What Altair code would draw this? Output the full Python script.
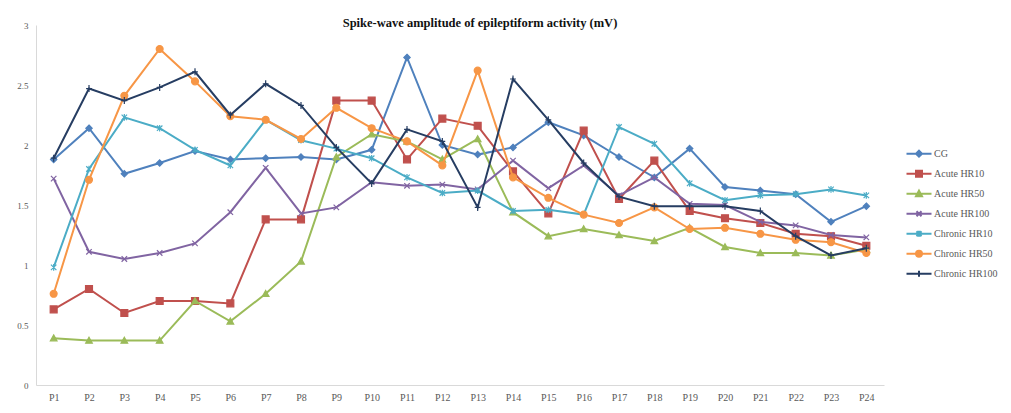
import altair as alt
import pandas as pd

# Recording points P1..P24
points = [f"P{i}" for i in range(1, 25)]

series_names = ["CG", "Acute HR10", "Acute HR50", "Acute HR100",
                "Chronic HR10", "Chronic HR50", "Chronic HR100"]

cg = [1.88, 2.14, 1.76, 1.85, 1.95, 1.88, 1.89, 1.90, 1.88, 1.96, 2.73, 2.00,
      1.92, 1.98, 2.19, 2.08, 1.90, 1.73, 1.97, 1.65, 1.62, 1.59, 1.36, 1.49]
acute_hr10 = [0.63, 0.80, 0.60, 0.70, 0.70, 0.68, 1.38, 1.38, 2.37, 2.37, 1.88, 2.22,
              2.16, 1.78, 1.43, 2.12, 1.55, 1.87, 1.45, 1.39, 1.35, 1.26, 1.24, 1.16]
acute_hr50 = [0.39, 0.37, 0.37, 0.37, 0.70, 0.53, 0.76, 1.03, 1.90, 2.09, 2.03, 1.88,
              2.05, 1.44, 1.24, 1.30, 1.25, 1.20, 1.31, 1.15, 1.10, 1.10, 1.08, 1.13]
acute_hr100 = [1.72, 1.11, 1.05, 1.10, 1.18, 1.44, 1.81, 1.43, 1.48, 1.69, 1.66, 1.67,
               1.63, 1.87, 1.64, 1.83, 1.58, 1.73, 1.51, 1.50, 1.36, 1.33, 1.25, 1.23]
chronic_hr10 = [0.98, 1.80, 2.23, 2.14, 1.96, 1.83, 2.21, 2.04, 1.97, 1.89, 1.73, 1.60,
                1.62, 1.45, 1.46, 1.42, 2.15, 2.01, 1.68, 1.54, 1.58, 1.59, 1.63, 1.58]
chronic_hr50 = [0.76, 1.71, 2.41, 2.80, 2.53, 2.24, 2.21, 2.05, 2.31, 2.14, 2.03, 1.83,
                2.62, 1.73, 1.56, 1.42, 1.35, 1.48, 1.30, 1.31, 1.26, 1.21, 1.19, 1.10]
chronic_hr100 = [1.89, 2.47, 2.37, 2.48, 2.61, 2.25, 2.51, 2.33, 1.98, 1.68, 2.13, 2.03,
                 1.48, 2.55, 2.21, 1.85, 1.57, 1.49, 1.49, 1.49, 1.45, 1.24, 1.08, 1.14]

series_values = [cg, acute_hr10, acute_hr50, acute_hr100,
                 chronic_hr10, chronic_hr50, chronic_hr100]

colors = ["#4F81BD", "#C0504D", "#9BBB59", "#8064A2", "#4BACC6", "#F79646", "#263D62"]

# Marker outlines in the unit square (-1..1), one per series
marker_paths = [
    "M0,-1L1,0L0,1L-1,0Z",                      # diamond
    "M-1,-1H1V1H-1Z",                           # square
    "M0,-1L1,0.8H-1Z",                          # triangle
    "M-1,-1L1,1M-1,1L1,-1",                     # x
    "M-1,-1L1,1M-1,1L1,-1M0,-1.2V1.2",          # asterisk
    "M1,0A1,1 0 1,1 -1,0A1,1 0 1,1 1,0Z",       # circle
    "M-1,0H1M0,-1.2V1.2",                       # plus
]
marker_sizes = [40, 48, 44, 30, 30, 48, 34]

# Legend glyphs: a short line segment with the series' marker on it
legend_paths = [
    "M-2.5,0H2.5M0,-0.6L0.6,0L0,0.6L-0.6,0Z",
    "M-2.5,0H2.5M-0.6,-0.6H0.6V0.6H-0.6Z",
    "M-2.5,0H2.5M0,-0.6L0.6,0.5H-0.6Z",
    "M-2.5,0H2.5M-0.5,-0.5L0.5,0.5M-0.5,0.5L0.5,-0.5",
    "M-2.5,0H2.5M-0.5,-0.5L0.5,0.5M-0.5,0.5L0.5,-0.5M0,-0.6V0.6",
    "M-2.5,0H2.5M0.6,0A0.6,0.6 0 1,1 -0.6,0A0.6,0.6 0 1,1 0.6,0Z",
    "M-2.5,0H2.5M0,-0.6V0.6",
]

rows = []
for name, vals in zip(series_names, series_values):
    for p, v in zip(points, vals):
        rows.append({"Point": p, "Series": name, "Amplitude": v})
df = pd.DataFrame(rows)

serif = "Liberation Serif"

x_enc = alt.X("Point:N", sort=points,
              scale=alt.Scale(type="point", padding=0.5),
              axis=alt.Axis(title=None, labelAngle=0, ticks=False,
                            labelFont=serif, labelFontSize=10, labelColor="#595959",
                            labelPadding=7, domainColor="#d9d9d9"))
y_enc = alt.Y("Amplitude:Q",
              scale=alt.Scale(domain=[0, 3], nice=False, zero=True),
              axis=alt.Axis(title=None, values=[0, 0.5, 1, 1.5, 2, 2.5, 3],
                            format="~g", grid=False, ticks=False,
                            labelFont=serif, labelFontSize=9, labelColor="#595959",
                            labelPadding=8, domainColor="#d9d9d9"))

color_scale = alt.Scale(domain=series_names, range=colors)

base = alt.Chart(df)

# One line + marker layer per series, each in its own fixed colour
series_layers = []
for name, col, path, size in zip(series_names, colors, marker_paths, marker_sizes):
    one = base.transform_filter(alt.datum.Series == name)
    series_layers.append(
        one.mark_line(strokeWidth=2, color=col).encode(x=x_enc, y=y_enc)
    )
    series_layers.append(
        one.mark_point(
            shape=path, size=size, filled=True, fill=col, stroke=col,
            strokeWidth=1.2, opacity=1,
        ).encode(x=x_enc, y=y_enc)
    )

# Zero-size points whose only job is to carry the series legend
legend_layer = base.mark_point(filled=True, opacity=1, size=0).encode(
    x=x_enc, y=y_enc,
    fill=alt.Fill("Series:N", scale=color_scale, legend=alt.Legend(title=None)),
    stroke=alt.Stroke("Series:N", scale=color_scale, legend=alt.Legend(title=None)),
    shape=alt.Shape("Series:N", scale=alt.Scale(domain=series_names, range=legend_paths),
                    legend=alt.Legend(title=None)),
)

chart = alt.layer(*series_layers, legend_layer).properties(
    width=848,
    height=360,
    background="white",
    title=alt.TitleParams(
        "Spike-wave amplitude of epileptiform activity (mV)",
        font=serif, fontSize=12.5, fontWeight="bold", color="#111111",
        anchor="middle", frame="group", baseline="middle", offset=3, dx=20, dy=17,
    ),
    autosize=alt.AutoSizeParams(type="none"),
    padding={"left": 36, "top": 25, "right": 127, "bottom": 28},
).configure_view(
    strokeWidth=0
).configure_legend(
    orient="none", legendX=877, legendY=122.7,
    symbolSize=100, symbolStrokeWidth=2, rowPadding=6, padding=0,
    labelFont=serif, labelFontSize=10, labelColor="#595959", labelOffset=9,
)

chart.save("out.html", embed_options={"renderer": "svg", "actions": False})
